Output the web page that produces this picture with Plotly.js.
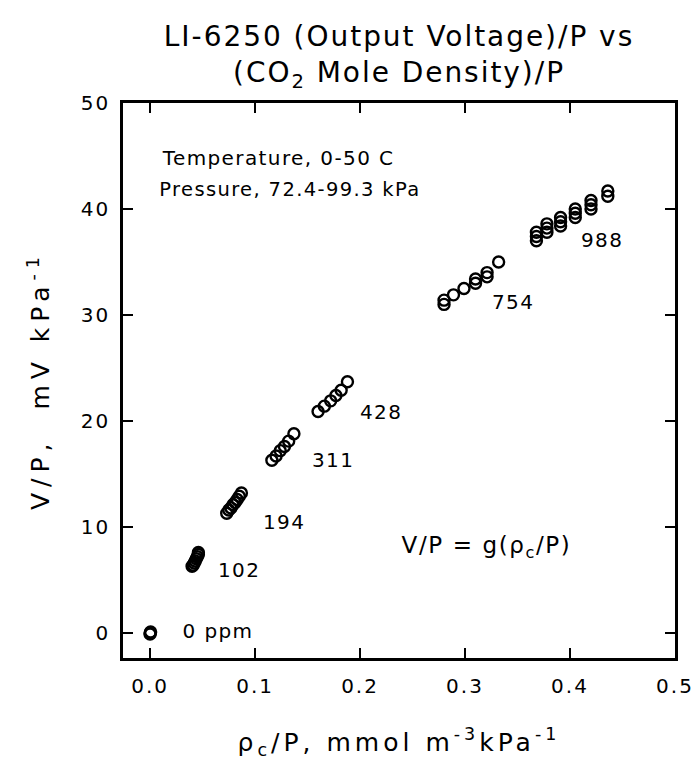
<!DOCTYPE html>
<html>
<head>
<meta charset="utf-8">
<script src="https://cdn.plot.ly/plotly-3.0.1.min.js"></script>
<style>
body{margin:0;padding:0;background:#fff}
#chart{width:694px;height:764px}
#chart .gtitle{letter-spacing:0.07em}
#chart .xtick text,#chart .ytick text{letter-spacing:0.1em}
#chart .annotation-text{letter-spacing:0.07em}
#chart .xtitle{letter-spacing:0.16em}
#chart .ytitle{letter-spacing:0.24em}
</style>
</head>
<body>
<div id="chart"></div>
<script>
// CO2 concentration groups (ppm) and readings: x = rho_c/P (mmol m^-3 kPa^-1), y = V/P (mV kPa^-1)
const groupLabels = ['0 ppm', '102', '194', '311', '428', '754', '988'];
const x0 = [0.000, 0.000, 0.0005];
const y0 = [-0.1, 0.0, 0.1];
const x102 = [0.040, 0.041, 0.042, 0.043, 0.044, 0.045, 0.046, 0.046];
const y102 = [6.3, 6.4, 6.6, 6.8, 7.0, 7.2, 7.4, 7.6];
const x194 = [0.073, 0.075, 0.077, 0.079, 0.081, 0.083, 0.085, 0.087];
const y194 = [11.3, 11.6, 11.8, 12.1, 12.3, 12.6, 12.9, 13.2];
const x311 = [0.116, 0.120, 0.124, 0.128, 0.132, 0.137];
const y311 = [16.3, 16.7, 17.2, 17.6, 18.1, 18.8];
const x428 = [0.160, 0.166, 0.172, 0.177, 0.182, 0.188];
const y428 = [20.9, 21.4, 21.9, 22.4, 22.9, 23.7];
const x754 = [0.280, 0.280, 0.289, 0.299, 0.310, 0.310, 0.321, 0.321, 0.332];
const y754 = [31.0, 31.4, 31.9, 32.5, 33.0, 33.4, 33.6, 34.0, 35.0];
const x988 = [0.368, 0.368, 0.368, 0.378, 0.378, 0.378, 0.391, 0.391, 0.391, 0.405, 0.405, 0.405, 0.420, 0.420, 0.420, 0.436, 0.436];
const y988 = [37.0, 37.4, 37.8, 37.8, 38.2, 38.6, 38.4, 38.8, 39.2, 39.2, 39.6, 40.0, 40.0, 40.4, 40.8, 41.2, 41.7];

// label anchor positions (data coords, label centres) for group labels
const labelX = [0.065, 0.085, 0.128, 0.174, 0.220, 0.346, 0.430];
const labelY = [0.2, 5.9, 10.5, 16.3, 20.85, 31.2, 37.1];

const xTicks = [0, 0.1, 0.2, 0.3, 0.4, 0.5];
const xTickText = ['0.0', '0.1', '0.2', '0.3', '0.4', '0.5'];
const yTicks = [0, 10, 20, 30, 40, 50];

const FONT = 'DejaVu Sans, sans-serif';
const xs = [x0, x102, x194, x311, x428, x754, x988];
const ys = [y0, y102, y194, y311, y428, y754, y988];

const traces = xs.map((xv, i) => ({
  x: xv, y: ys[i], type: 'scatter', mode: 'markers', name: groupLabels[i],
  marker: {symbol: 'circle-open', size: 11, color: '#000', line: {width: 2.4, color: '#000'}},
  showlegend: false, hoverinfo: 'x+y'
}));

const annotations = groupLabels.map((t, i) => ({
  x: labelX[i], y: labelY[i], xref: 'x', yref: 'y', text: t, showarrow: false,
  xanchor: 'center', yanchor: 'middle', font: {family: FONT, size: 20, color: '#000'}
}));
annotations.push(
  {x: 0.1221, y: 44.8, xref: 'x', yref: 'y', text: 'Temperature, 0-50 C', showarrow: false,
   xanchor: 'center', yanchor: 'middle', font: {family: FONT, size: 20, color: '#000'}},
  {x: 0.1330, y: 41.8, xref: 'x', yref: 'y', text: 'Pressure, 72.4-99.3 kPa', showarrow: false,
   xanchor: 'center', yanchor: 'middle', font: {family: FONT, size: 19.5, color: '#000'}},
  {x: 0.3206, y: 8.1, xref: 'x', yref: 'y', text: 'V/P = g(ρ<sub>c</sub>/P)', showarrow: false,
   xanchor: 'center', yanchor: 'middle', font: {family: FONT, size: 23, color: '#000'}}
);

const axisCommon = {
  showline: true, linewidth: 2.8, linecolor: '#000', mirror: 'allticks',
  ticks: 'inside', ticklen: 10, tickwidth: 2.2, tickcolor: '#000',
  showgrid: false, zeroline: false,
  tickfont: {family: FONT, size: 20, color: '#000'}
};

const layout = {
  width: 694, height: 764,
  margin: {l: 123, r: 19, t: 103, b: 106, pad: 0},
  paper_bgcolor: '#fff', plot_bgcolor: '#fff',
  title: {
    text: 'LI-6250 (Output Voltage)/P vs<br>(CO<sub>2</sub> Mole Density)/P',
    font: {family: FONT, size: 28, color: '#000'},
    x: 0.5, xref: 'paper', xanchor: 'center', y: 1 - 46 / 764, yref: 'container', yanchor: 'top'
  },
  xaxis: Object.assign({}, axisCommon, {
    range: [-0.0258, 0.5], tickvals: xTicks, ticktext: xTickText, ticklabelstandoff: 8,
    title: {text: 'ρ<sub>c</sub>/P, mmol m<sup>-3</sup>kPa<sup>-1</sup>', standoff: 37,
            font: {family: FONT, size: 25, color: '#000'}}
  }),
  yaxis: Object.assign({}, axisCommon, {
    range: [-2.36, 50], tickvals: yTicks, ticklabelstandoff: 6,
    title: {text: 'V/P,  mV kPa<sup>-1</sup>', standoff: 28,
            font: {family: FONT, size: 25, color: '#000'}}
  }),
  annotations: annotations
};

Plotly.newPlot('chart', traces, layout, {staticPlot: true, displayModeBar: false});
</script>
</body>
</html>
